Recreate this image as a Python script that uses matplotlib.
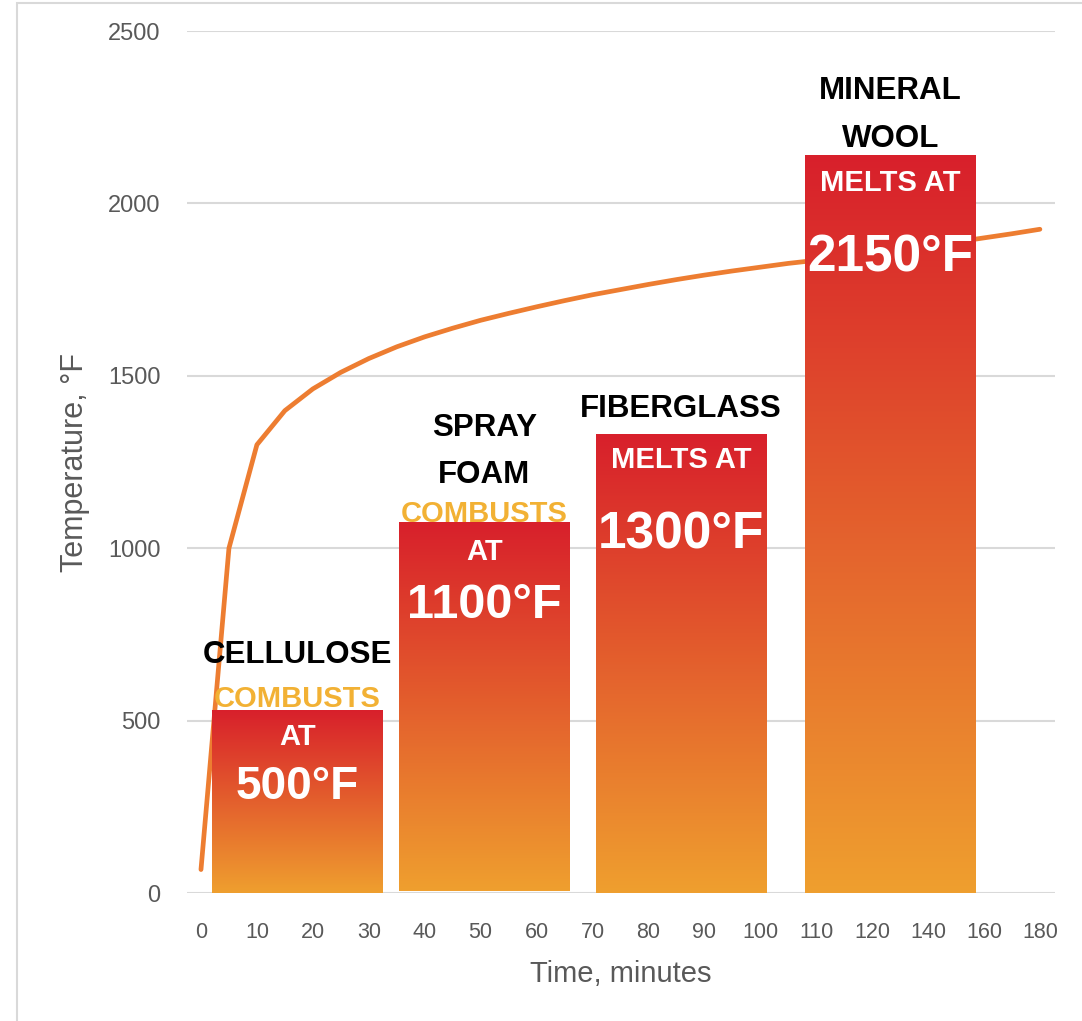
import matplotlib.pyplot as plt
import numpy as np
from matplotlib import font_manager
from matplotlib.colors import LinearSegmentedColormap
from matplotlib.patches import Rectangle

# x categories (minutes)
time_labels = ["0", "10", "20", "30", "40", "50", "60", "70", "80", "90",
               "100", "110", "120", "140", "160", "180"]

# fire curve, one point every half category
curve_temps = [68, 1000, 1300, 1399, 1462, 1510, 1550, 1584, 1613, 1638,
               1661, 1681, 1700, 1718, 1735, 1750, 1765, 1779, 1792, 1804,
               1815, 1826, 1835, 1843, 1850, 1862, 1875, 1888, 1900, 1912, 1925]

materials = ["CELLULOSE", "SPRAY\nFOAM", "FIBERGLASS", "MINERAL\nWOOL"]
actions = ["COMBUSTS\nAT", "COMBUSTS\nAT", "MELTS AT", "MELTS AT"]
temp_labels = ["500°F", "1100°F", "1300°F", "2150°F"]
bar_tops = [530, 1075, 1330, 2140]
bar_bottoms = [0, 5, 0, 0]

# layout
bar_left = [0.2, 3.54, 7.06, 10.8]
bar_width = 3.05
# pixel offsets (downwards from bar top) of the centre of each text line
line_offsets = [
    [-59, -14, 24, 72],
    [-98, -51, -11, 27, 78],
    [-29, 23, 96],
    [-67, -19, 25, 98],
]
temp_sizes = [33, 35, 37, 37]

names = {f.name for f in font_manager.fontManager.ttflist}
narrow = "Liberation Sans Narrow" if "Liberation Sans Narrow" in names else "Liberation Sans"

grey = "#595959"
gold = "#F2B134"
cmap = LinearSegmentedColormap.from_list("bar", ["#EF9F2F", "#D8202B"])

fig = plt.figure(figsize=(10.82, 10.21), dpi=100)
ax = fig.add_axes([187 / 1082, 128 / 1021, 868 / 1082, 862 / 1021])

ax.plot(np.arange(len(curve_temps)) * 0.5, curve_temps, color="#ED7D31",
        lw=3.4, zorder=2, solid_joinstyle="round", solid_capstyle="round")

grad = np.linspace(0, 1, 256).reshape(-1, 1)
for i in range(len(bar_tops)):
    x0 = bar_left[i]
    ax.imshow(grad, extent=[x0, x0 + bar_width, bar_bottoms[i], bar_tops[i]],
              origin="lower", cmap=cmap, aspect="auto", zorder=3)

    lines = materials[i].split("\n") + actions[i].split("\n") + [temp_labels[i]]
    n_name = len(materials[i].split("\n"))
    cx = x0 + bar_width / 2
    for j, (txt, dy) in enumerate(zip(lines, line_offsets[i])):
        if j < n_name:
            size, color = 22.5, "black"
        elif j == len(lines) - 1:
            size, color = temp_sizes[i], "white"
        else:
            size, color = 21, gold if dy < 0 else "white"
        ax.annotate(txt, (cx, bar_tops[i]), xytext=(0, -(dy + size / 2)),
                    textcoords="offset pixels", ha="center", va="baseline",
                    fontsize=size, fontweight="bold", color=color,
                    family="Liberation Sans", zorder=5)

ax.set_xlim(-0.25, 15.27)
ax.set_ylim(0, 2500)
ax.set_yticks(np.arange(0, 2501, 500))
ax.set_xticks(range(len(time_labels)))
ax.set_xticklabels(time_labels, family=narrow, fontsize=15.5, color=grey)
for t in ax.get_yticklabels():
    t.set_fontsize(17)
    t.set_color(grey)
    t.set_family("Liberation Sans")
ax.tick_params(axis="both", length=0)
ax.tick_params(axis="y", pad=19)
ax.tick_params(axis="x", pad=21)
ax.grid(axis="y", color="#D9D9D9", lw=1.5)
ax.set_axisbelow(True)
for s in ax.spines.values():
    s.set_visible(False)

ax.set_ylabel("Temperature, °F", fontsize=22, color=grey, family="Liberation Sans")
ax.yaxis.set_label_coords(-0.112, 0.5)
ax.set_xlabel("Time, minutes", fontsize=21, color=grey, family=narrow, labelpad=12)

fig.add_artist(Rectangle((17 / 1082, -0.05), 1.1, 1 - 3 / 1021 + 0.05,
                         transform=fig.transFigure, fill=False,
                         ec="#D9D9D9", lw=1.5))

fig.savefig("out.png", dpi=100)
